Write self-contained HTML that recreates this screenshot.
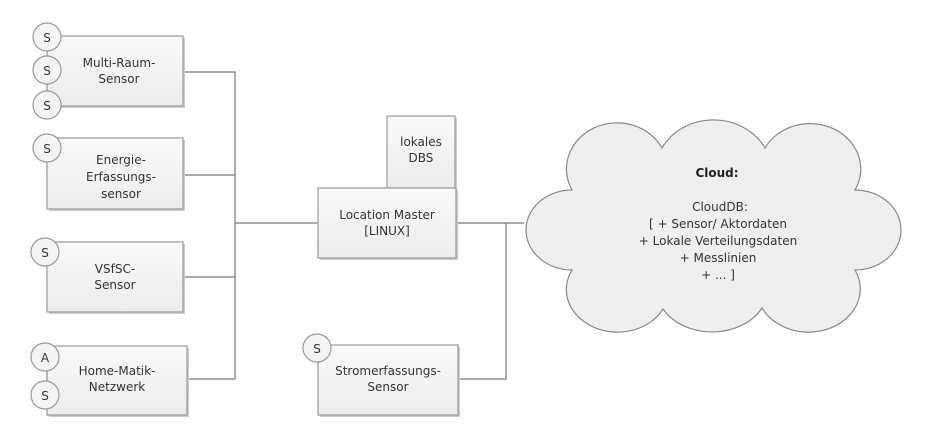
<!DOCTYPE html>
<html><head><meta charset="utf-8"><style>
body{margin:0;background:#fff}
svg{display:block}
text{font-family:"DejaVu Sans","Liberation Sans",sans-serif;font-size:12px;fill:#333}
</style></head><body>
<svg width="942" height="442" viewBox="0 0 942 442" xmlns="http://www.w3.org/2000/svg">
<defs>
<linearGradient id="g" x1="0" y1="0" x2="0" y2="1"><stop offset="0" stop-color="#fafafa"/><stop offset="1" stop-color="#ececec"/></linearGradient>
</defs>
<g stroke="#777" stroke-width="1.2" fill="none">
<polyline points="183,72 235,72 235,379 187,379"/>
<line x1="183" y1="175" x2="235" y2="175"/>
<line x1="183" y1="277" x2="235" y2="277"/>
<line x1="235" y1="223" x2="318" y2="223"/>
<line x1="456" y1="223" x2="524" y2="223"/>
<polyline points="506,223 506,379 458,379"/>
</g>
<g stroke="#999" stroke-width="1.2" fill="url(#g)">
<rect x="49" y="38" width="136" height="70" fill="#ccc" stroke="none"/>
<rect x="47" y="36" width="136" height="70"/>
<rect x="49" y="140" width="136" height="71" fill="#ccc" stroke="none"/>
<rect x="47" y="138" width="136" height="71"/>
<rect x="49" y="244" width="136" height="70" fill="#ccc" stroke="none"/>
<rect x="47" y="242" width="136" height="70"/>
<rect x="49" y="348" width="140" height="69" fill="#ccc" stroke="none"/>
<rect x="47" y="346" width="140" height="69"/>
<rect x="389" y="118" width="68" height="72" fill="#ccc" stroke="none"/>
<rect x="387" y="116" width="68" height="72"/>
<rect x="320" y="190" width="138" height="70" fill="#ccc" stroke="none"/>
<rect x="318" y="188" width="138" height="70"/>
<rect x="320" y="347" width="140" height="70" fill="#ccc" stroke="none"/>
<rect x="318" y="345" width="140" height="70"/>
</g>
<g stroke="#999" stroke-width="1.2">
<line x1="47" y1="37" x2="47" y2="106"/>
<line x1="47" y1="357" x2="47" y2="395"/>
</g>
<g stroke="#999" stroke-width="1.2" fill="#f4f4f4">
<circle cx="47" cy="37" r="14"/>
<circle cx="47" cy="70" r="14"/>
<circle cx="47" cy="105" r="14"/>
<circle cx="47" cy="148" r="14"/>
<circle cx="45" cy="252" r="14"/>
<circle cx="45" cy="357" r="14"/>
<circle cx="45" cy="395" r="14"/>
<circle cx="317" cy="348" r="14"/>
</g>
<g text-anchor="middle">
<text x="47" y="42">S</text><text x="47" y="75">S</text><text x="47" y="110">S</text>
<text x="47" y="153">S</text><text x="45" y="257">S</text>
<text x="45" y="362">A</text><text x="45" y="400">S</text><text x="317" y="353">S</text>
<text x="119" y="67">Multi-Raum-</text><text x="119" y="83">Sensor</text>
<text x="121" y="164">Energie-</text><text x="121" y="181">Erfassungs-</text><text x="121" y="198">sensor</text>
<text x="115" y="273">VSfSC-</text><text x="115" y="289">Sensor</text>
<text x="117" y="375">Home-Matik-</text><text x="117" y="391">Netzwerk</text>
<text x="421" y="146">lokales</text><text x="421" y="162">DBS</text>
<text x="387" y="219">Location Master</text><text x="387" y="235">[LINUX]</text>
<text x="388" y="375">Stromerfassungs-</text><text x="388" y="391">Sensor</text>
</g>
<path d="M572,190 A46,42 0 0 1 662,148 A58,52 0 0 1 765,148 A47,42 0 0 1 855,190 A46,40 0 0 1 855,270 A48,40 0 0 1 762,308 A56,44 0 0 1 663,309 A48,40 0 0 1 572,270 A46,40 0 0 1 572,190 Z" fill="#efefef" stroke="#888" stroke-width="1.2"/>
<g text-anchor="middle">
<text x="717" y="177" font-weight="bold" style="fill:#222">Cloud:</text>
<text x="720" y="211">CloudDB:</text>
<text x="718" y="228">[ + Sensor/ Aktordaten</text>
<text x="718" y="245">+ Lokale Verteilungsdaten</text>
<text x="718" y="262">+ Messlinien</text>
<text x="718" y="279">+ ... ]</text>
</g>
</svg>
</body></html>
